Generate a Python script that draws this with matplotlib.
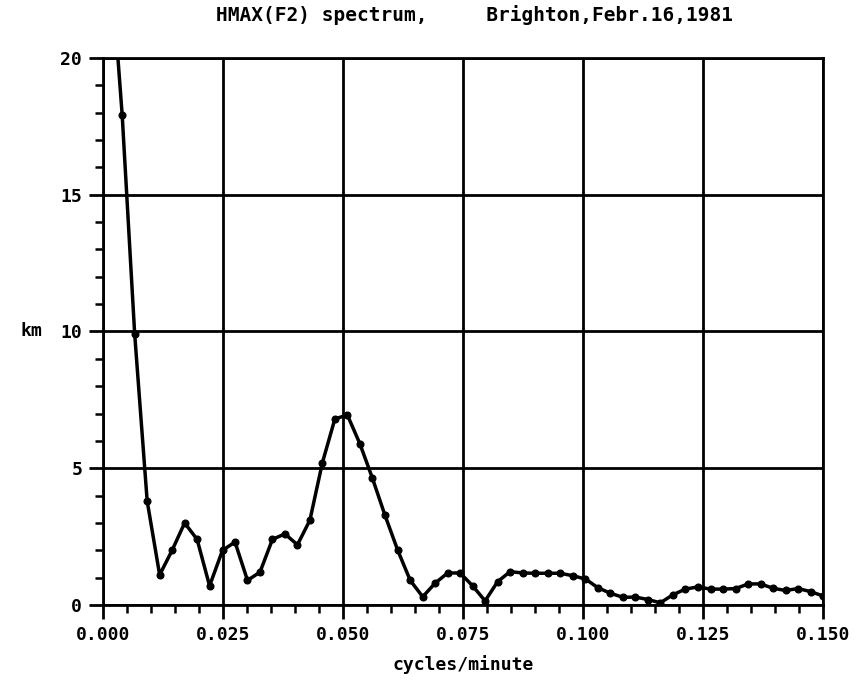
#!/usr/bin/env python3
"""HMAX(F2) spectrum, Brighton, Febr. 16, 1981 - plotter style line chart."""

import matplotlib

matplotlib.use("Agg")
import matplotlib.pyplot as plt
from matplotlib.ticker import MultipleLocator, FormatStrFormatter

# frequency (cycles/minute)
FREQ = [
    0.0014, 0.0040, 0.0066, 0.0092, 0.0118, 0.0144, 0.0170, 0.0196, 0.0222, 0.0249,
    0.0275, 0.0301, 0.0327, 0.0353, 0.0379, 0.0405, 0.0431, 0.0457, 0.0483, 0.0509,
    0.0535, 0.0561, 0.0587, 0.0614, 0.0640, 0.0666, 0.0692, 0.0718, 0.0744, 0.0770,
    0.0796, 0.0822, 0.0848, 0.0874, 0.0900, 0.0926, 0.0952, 0.0979, 0.1005, 0.1031,
    0.1057, 0.1083, 0.1109, 0.1135, 0.1161, 0.1187, 0.1213, 0.1239, 0.1266, 0.1292,
    0.1318, 0.1344, 0.1370, 0.1396, 0.1422, 0.1448, 0.1474, 0.1500,
]

# amplitude (km)
AMPLITUDE = [
    24.0, 17.9, 9.9, 3.8, 1.1, 2.0, 3.0, 2.4, 0.7, 2.0,
    2.3, 0.9, 1.2, 2.4, 2.6, 2.2, 3.1, 5.2, 6.8, 6.95,
    5.9, 4.65, 3.3, 2.0, 0.9, 0.3, 0.8, 1.17, 1.17, 0.7,
    0.15, 0.85, 1.22, 1.17, 1.16, 1.16, 1.16, 1.07, 0.95, 0.63,
    0.43, 0.28, 0.29, 0.2, 0.08, 0.37, 0.58, 0.66, 0.58, 0.58,
    0.6, 0.77, 0.77, 0.61, 0.53, 0.6, 0.49, 0.33,
]

TITLE = "HMAX(F2) spectrum,     Brighton,Febr.16,1981"
X_LABEL = "cycles/minute"
Y_LABEL = "km"

FONT = "DejaVu Sans Mono"

fig = plt.figure(figsize=(8.62, 6.86), dpi=100, facecolor="white")
ax = fig.add_axes([0.1195, 0.1181, 0.8353, 0.7974])

ax.plot(FREQ, AMPLITUDE, color="black", linewidth=2.5, marker="o",
        markersize=4.8, markerfacecolor="black", markeredgecolor="black", zorder=3)

ax.set_xlim(0, 0.150)
ax.set_ylim(0, 20)

ax.xaxis.set_major_locator(MultipleLocator(0.025))
ax.xaxis.set_minor_locator(MultipleLocator(0.005))
ax.yaxis.set_major_locator(MultipleLocator(5))
ax.yaxis.set_minor_locator(MultipleLocator(1))
ax.xaxis.set_major_formatter(FormatStrFormatter("%.3f"))
ax.yaxis.set_major_formatter(FormatStrFormatter("%d"))

ax.grid(which="major", color="black", linewidth=2.0)
for spine in ax.spines.values():
    spine.set_linewidth(2.0)

ax.tick_params(which="major", direction="out", length=10, width=2.0, pad=5,
               labelsize=13)
ax.tick_params(which="minor", direction="out", length=6, width=1.8)
for lab in ax.get_xticklabels() + ax.get_yticklabels():
    lab.set_family(FONT)
    lab.set_fontweight("bold")

fig.text(0.55, 0.993, TITLE, ha="center", va="top", family=FONT,
         fontweight="bold", fontsize=14)
ax.set_xlabel(X_LABEL, family=FONT, fontweight="bold", fontsize=13, labelpad=8)
ax.text(-0.085, 10, Y_LABEL, transform=ax.get_yaxis_transform(), ha="right",
        va="center", family=FONT, fontweight="bold", fontsize=13)

fig.savefig("out.png", dpi=100, facecolor="white")
plt.close(fig)
